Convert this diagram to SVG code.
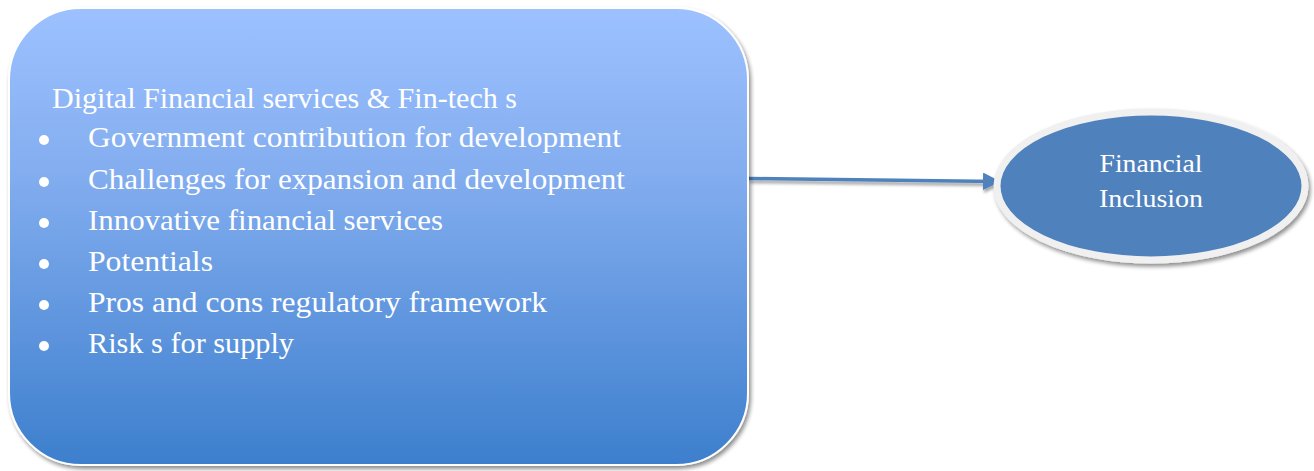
<svg xmlns="http://www.w3.org/2000/svg" width="1314" height="471" viewBox="0 0 1314 471">
  <defs>
    <linearGradient id="boxFill" x1="0" y1="0" x2="0" y2="1">
      <stop offset="0" stop-color="#9DC1FF"/>
      <stop offset="0.35" stop-color="#84AEF0"/>
      <stop offset="1" stop-color="#3D7FCD"/>
    </linearGradient>
    <filter id="shadow" x="-5%" y="-5%" width="112%" height="115%">
      <feGaussianBlur in="SourceAlpha" stdDeviation="2"/>
      <feOffset dx="2" dy="3" result="off"/>
      <feComponentTransfer><feFuncA type="linear" slope="0.45"/></feComponentTransfer>
      <feMerge><feMergeNode/><feMergeNode in="SourceGraphic"/></feMerge>
    </filter>
    <filter id="lineShadow" filterUnits="userSpaceOnUse" x="730" y="160" width="290" height="45">
      <feGaussianBlur in="SourceAlpha" stdDeviation="1.5"/>
      <feOffset dx="1" dy="3" result="off"/>
      <feComponentTransfer><feFuncA type="linear" slope="0.35"/></feComponentTransfer>
      <feMerge><feMergeNode/><feMergeNode in="SourceGraphic"/></feMerge>
    </filter>
    <marker id="arrowHead" markerWidth="5" markerHeight="5" refX="4" refY="2.5" orient="auto" markerUnits="strokeWidth">
      <path d="M0,0 L5,2.5 L0,5 z" fill="#4F81BD"/>
    </marker>
    <style>
      .label { font-family: "Liberation Serif", "DejaVu Serif", serif; fill: #ffffff; }
      .item { font-size: 30px; }
      .oval { font-size: 26px; }
      .dot { fill: #ffffff; }
    </style>
  </defs>

  <rect width="1314" height="471" fill="#ffffff"/>

  <g id="connectors">
    <line x1="749" y1="178.5" x2="997" y2="181.5" stroke="#4F81BD" stroke-width="3.5" marker-end="url(#arrowHead)" filter="url(#lineShadow)"/>
  </g>

  <g id="node-digital-services">
    <rect x="9" y="8" width="739" height="457" rx="72" ry="72" fill="url(#boxFill)" stroke="#ffffff" stroke-width="2" filter="url(#shadow)"/>
    <text class="label item" x="52" y="108" textLength="465" lengthAdjust="spacingAndGlyphs">Digital Financial services &amp; Fin-tech s</text>
    <circle class="dot" cx="44" cy="140" r="5"/>
    <text class="label item" x="88" y="147" textLength="533" lengthAdjust="spacingAndGlyphs">Government contribution for development</text>
    <circle class="dot" cx="44" cy="182" r="5"/>
    <text class="label item" x="88" y="189" textLength="537" lengthAdjust="spacingAndGlyphs">Challenges for expansion and development</text>
    <circle class="dot" cx="44" cy="223" r="5"/>
    <text class="label item" x="88" y="230" textLength="355" lengthAdjust="spacingAndGlyphs">Innovative financial services</text>
    <circle class="dot" cx="44" cy="264" r="5"/>
    <text class="label item" x="88" y="271" textLength="125" lengthAdjust="spacingAndGlyphs">Potentials</text>
    <circle class="dot" cx="44" cy="305" r="5"/>
    <text class="label item" x="88" y="312" textLength="459" lengthAdjust="spacingAndGlyphs">Pros and cons regulatory framework</text>
    <circle class="dot" cx="44" cy="346" r="5"/>
    <text class="label item" x="88" y="353" textLength="206" lengthAdjust="spacingAndGlyphs">Risk s for supply</text>
  </g>

  <g id="node-financial-inclusion">
    <ellipse cx="1151" cy="186" rx="154" ry="74" fill="#4F81BD" stroke="#F0F0F0" stroke-width="7" filter="url(#shadow)"/>
    <text class="label oval" x="1151" y="172" text-anchor="middle" textLength="103" lengthAdjust="spacingAndGlyphs">Financial</text>
    <text class="label oval" x="1151" y="207" text-anchor="middle" textLength="104" lengthAdjust="spacingAndGlyphs">Inclusion</text>
  </g>
</svg>
